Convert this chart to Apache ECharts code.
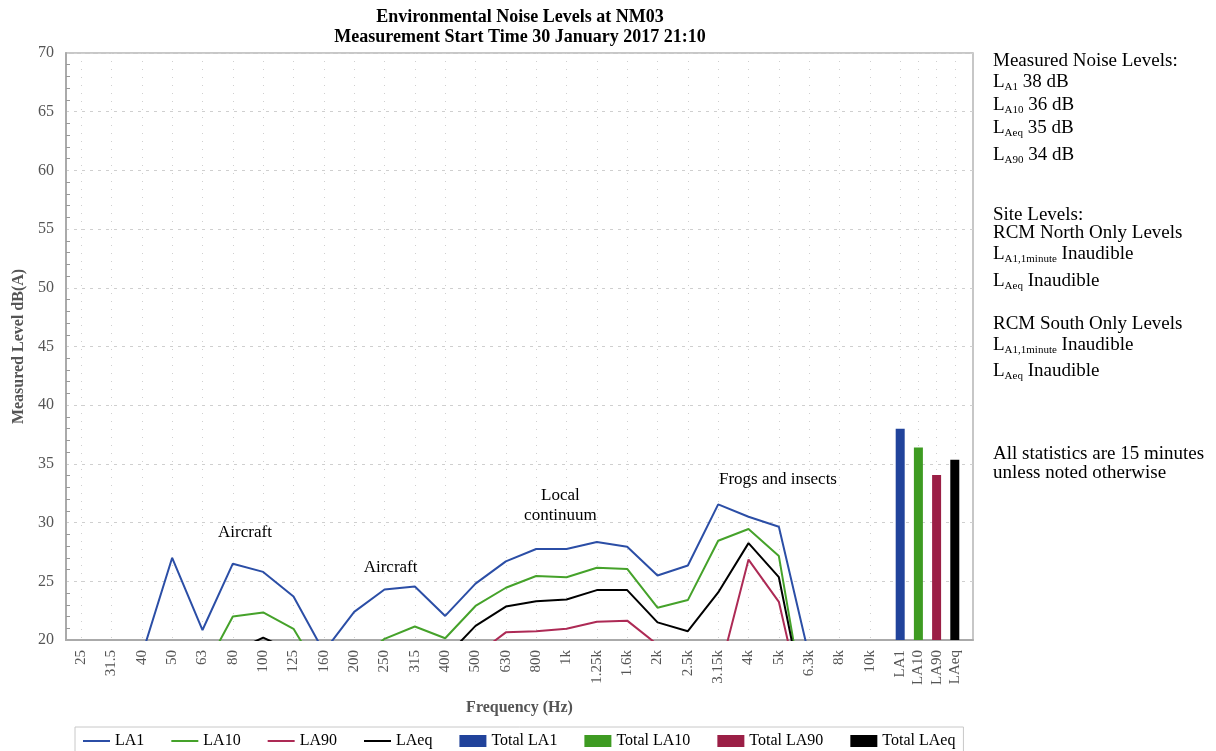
<!DOCTYPE html>
<html>
<head>
<meta charset="utf-8">
<script src="https://cdn.jsdelivr.net/npm/echarts@6/dist/echarts.min.js"></script>
<style>
html,body{margin:0;padding:0;background:#fff;}
#main{width:1216px;height:751px;}
</style>
</head>
<body>
<div id="main"></div>
<script>
// frequency bands (x categories)
var bands = ['25','31.5','40','50','63','80','100','125','160','200','250','315','400','500','630','800','1k','1.25k','1.6k','2k','2.5k','3.15k','4k','5k','6.3k','8k','10k'];
// measured levels per band, dB(A)
var la1  = [16, 17, 18.7, 27.0, 20.85, 26.5, 25.8, 23.7, 19.0, 22.4, 24.3, 24.55, 22.05, 24.8, 26.7, 27.75, 27.75, 28.35, 27.95, 25.5, 26.35, 31.55, 30.5, 29.65, 18.6, 15, 14];
var la10 = [14, 15, 16, 16.5, 17.2, 22.0, 22.35, 20.95, 16.7, 18, 20.1, 21.15, 20.15, 22.9, 24.45, 25.45, 25.35, 26.15, 26.05, 22.75, 23.4, 28.45, 29.45, 27.15, 12.1, 11, 10];
var la90 = [10, 10, 11, 12, 12, 13, 14, 14, 13, 14, 15, 16, 17, 18.7, 20.65, 20.75, 20.95, 21.55, 21.65, 19.6, 18, 16.8, 26.85, 23.25, 12, 11, 10];
var laeq = [12, 13, 14, 15, 16, 19, 20.2, 19, 16, 16, 16.5, 17, 18.5, 21.2, 22.85, 23.3, 23.45, 24.25, 24.25, 21.5, 20.75, 24.05, 28.25, 25.35, 12.6, 11, 10];
// overall totals (bars at right end of axis)
var totalNames = ['LA1', 'LA10', 'LA90', 'LAeq'];
var totalPos = [28, 28.6, 29.2, 29.8];
var totals = [38, 36.4, 34.05, 35.35];

var lineColors = ['#2b4ea6', '#45a22a', '#ad2a55', '#000000'];
var barColors = ['#21439b', '#3e9b22', '#9b1f46', '#000000'];
var FONT = '"Liberation Serif", "Times New Roman", serif';
var LINE_ICON = 'path://M0,0H27V2H0Z'; // flat stroke for the line legend entries

var chart = echarts.init(document.getElementById('main'));

function bandData(arr){
	var d = [];
	for (var i = 0; i < arr.length; i ++) {
		d.push([i + 1, arr[i]]);
	}
	return d;
}

var tickValues = [];
for (var i = 0; i < bands.length; i ++) tickValues.push(i + 1);
for (var j = 0; j < totalPos.length; j ++) tickValues.push(totalPos[j]);

function tickLabel(v){
	for (var i = 0; i < tickValues.length; i ++) {
		if (Math.abs(tickValues[i] - v) < 0.01) {
			return i < bands.length ? bands[i] : totalNames[i - bands.length];
		}
	}
	return '';
}

var series = [], legendData = [];
var lineNames = ['LA1', 'LA10', 'LA90', 'LAeq'];
var lineData = [la1, la10, la90, laeq];
for (var k = 0; k < lineNames.length; k ++) {
	series.push({
		name: lineNames[k],
		type: 'line',
		data: bandData(lineData[k]),
		symbol: 'none',
		clip: true,
		lineStyle: {width: 2, color: lineColors[k]},
		itemStyle: {color: lineColors[k]},
		z: 3
	});
	legendData.push({name: lineNames[k], icon: LINE_ICON});
}
for (var b = 0; b < totalNames.length; b ++) {
	series.push({
		name: 'Total ' + totalNames[b],
		type: 'bar',
		data: [[totalPos[b], totals[b]]],
		barWidth: 9,
		barGap: '-100%',
		itemStyle: {color: barColors[b]},
		clip: true,
		z: 2
	});
	legendData.push({name: 'Total ' + totalNames[b], icon: 'rect'});
}
// text annotations, anchored in data coordinates
series[0].markPoint = {
	symbol: 'circle',
	symbolSize: 0,
	silent: true,
	label: {
		show: true, position: 'inside', formatter: '{b}', color: '#000',
		fontFamily: FONT, fontSize: 17, lineHeight: 20
	},
	data: [
		{name: 'Aircraft', coord: [6.4, 29.15]},
		{name: 'Aircraft', coord: [11.2, 26.2]},
		{name: 'Local\ncontinuum', coord: [16.8, 31.45]},
		{name: 'Frogs and insects', coord: [23.97, 33.7]}
	]
};

function sideText(txt, y){
	return {
		type: 'text', x: 993, y: y,
		style: {
			text: txt, fill: '#000',
			font: '19px ' + FONT,
			verticalAlign: 'middle',
			rich: {
				n: {fontFamily: FONT, fontSize: 19, lineHeight: 22, verticalAlign: 'middle'},
				s: {fontFamily: FONT, fontSize: 11, lineHeight: 12, verticalAlign: 'bottom'}
			}
		}
	};
}

var option = {
	animation: false,
	backgroundColor: '#fff',
	textStyle: {fontFamily: FONT},
	grid: {
		left: 66, right: 243, top: 53, bottom: 111,
		show: true, borderColor: '#b5b5b5', borderWidth: 1.5
	},
	legend: {
		top: 727, left: 75,
		padding: [6, 8, 10, 8],
		borderColor: '#c8c8c8', borderWidth: 1,
		itemGap: 27, itemWidth: 27, itemHeight: 12,
		textStyle: {fontFamily: FONT, fontSize: 16, color: '#000'},
		data: legendData
	},
	xAxis: {
		type: 'value', min: 0.5, max: 30.4,
		name: 'Frequency (Hz)', nameLocation: 'middle', nameGap: 60,
		nameTextStyle: {fontFamily: FONT, fontSize: 16, fontWeight: 'bold', color: '#555'},
		axisLine: {lineStyle: {color: '#aaa', width: 2}},
		axisTick: {show: false, customValues: tickValues},
		axisLabel: {
			customValues: tickValues, rotate: 90, margin: 10,
			fontFamily: FONT, fontSize: 15, color: '#555',
			formatter: function(v){ return tickLabel(v); }
		},
		splitLine: {show: true, lineStyle: {color: '#cfcfcf', type: [1, 7], width: 1}}
	},
	yAxis: {
		type: 'value', min: 20, max: 70, interval: 5,
		name: 'Measured Level dB(A)', nameLocation: 'middle', nameGap: 35,
		nameTextStyle: {fontFamily: FONT, fontSize: 16, fontWeight: 'bold', color: '#555'},
		axisLine: {show: true, lineStyle: {color: '#aaa', width: 2}},
		axisTick: {show: false, inside: true},
		minorTick: {show: true, splitNumber: 5, length: 4, lineStyle: {color: '#999'}},
		axisLabel: {fontFamily: FONT, fontSize: 16, color: '#555', margin: 12},
		splitLine: {show: true, lineStyle: {color: '#cfcfcf', type: [3, 5], width: 1}}
	},
	graphic: [
		{
			type: 'text', x: 520, y: 7,
			style: {
				text: 'Environmental Noise Levels at NM03\nMeasurement Start Time 30 January 2017 21:10',
				fill: '#000', font: 'bold 18px ' + FONT, align: 'center', lineHeight: 20
			}
		},
		sideText('Measured Noise Levels:', 61),
		sideText('{n|L}{s|A1}{n| 38 dB}', 82),
		sideText('{n|L}{s|A10}{n| 36 dB}', 105),
		sideText('{n|L}{s|Aeq}{n| 35 dB}', 128),
		sideText('{n|L}{s|A90}{n| 34 dB}', 155),
		sideText('Site Levels:', 215),
		sideText('RCM North Only Levels', 233),
		sideText('{n|L}{s|A1,1minute}{n| Inaudible}', 254),
		sideText('{n|L}{s|Aeq}{n| Inaudible}', 281),
		sideText('RCM South Only Levels', 324),
		sideText('{n|L}{s|A1,1minute}{n| Inaudible}', 345),
		sideText('{n|L}{s|Aeq}{n| Inaudible}', 371),
		sideText('All statistics are 15 minutes', 454),
		sideText('unless noted otherwise', 473)
	],
	series: series
};
chart.setOption(option);
</script>
</body>
</html>
